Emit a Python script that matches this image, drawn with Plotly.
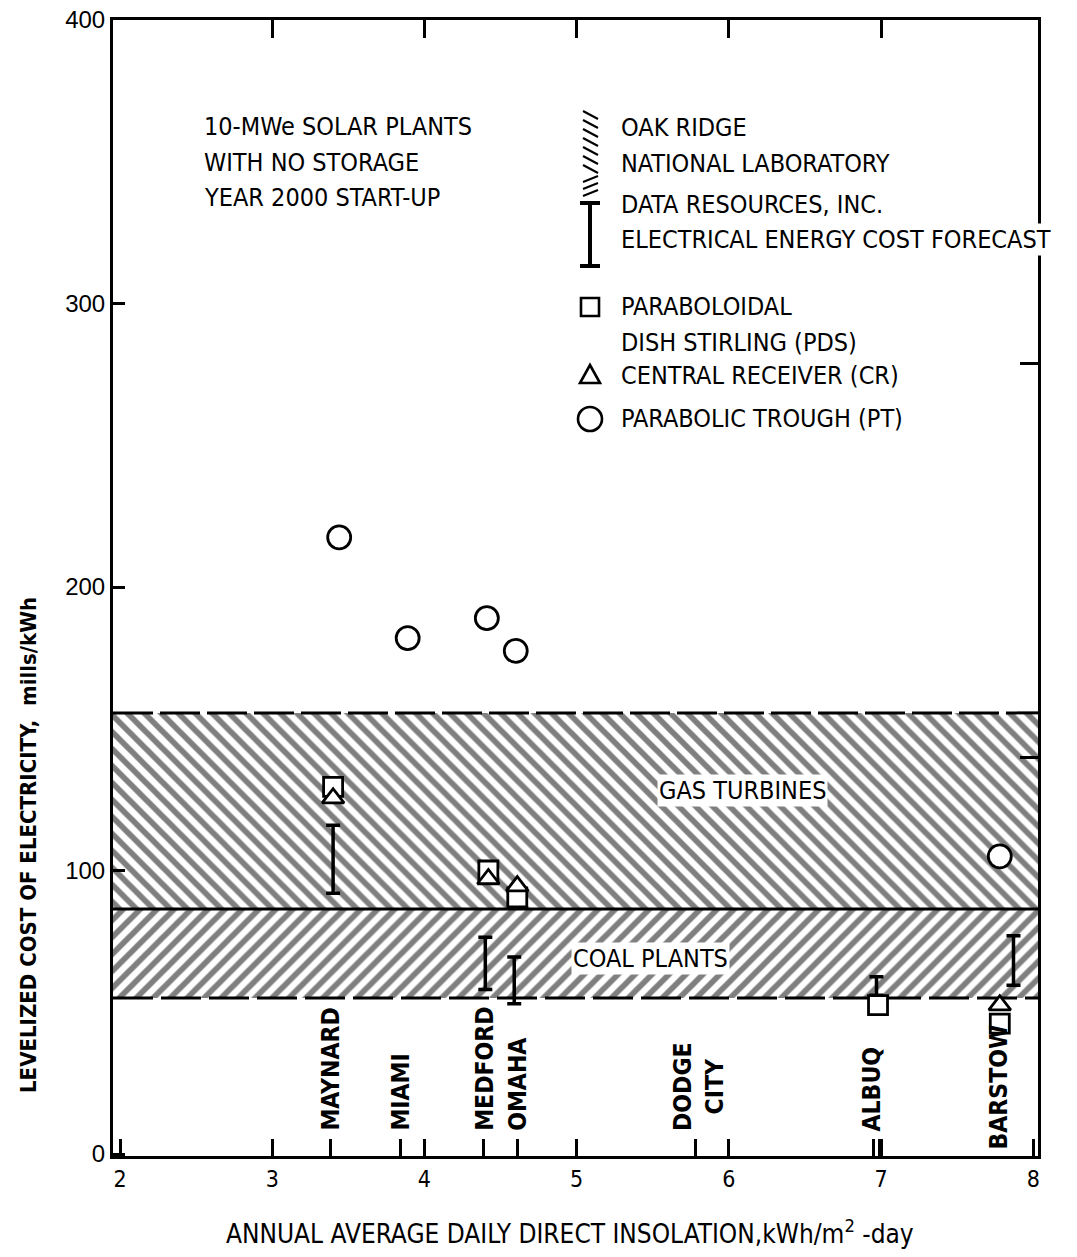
import plotly.graph_objects as go

# ---- data ----
# band limits (mills/kWh), Oak Ridge National Laboratory estimates
coal_low = 55.0
coal_high = 86.4
gas_high = 155.6

# paraboloidal dish stirling (PDS)
pds_x = [3.40, 4.42, 4.61, 6.98, 7.78]
pds_y = [129.5, 100.0, 90.5, 52.5, 46.0]

# central receiver (CR)
cr_x = [3.40, 4.42, 4.61, 7.78]
cr_y = [125.5, 97.0, 94.5, 52.5]

# parabolic trough (PT)
pt_x = [3.44, 3.89, 4.41, 4.60, 7.78]
pt_y = [217.5, 182.0, 189.0, 177.5, 105.0]

# Data Resources, Inc. forecast ranges
dri_x = [3.40, 4.40, 4.59, 6.97, 7.87]
dri_low = [92.0, 58.0, 53.0, 56.0, 59.5]
dri_high = [116.0, 76.5, 69.5, 62.5, 77.0]

# sites along the insolation axis
cities = ["MAYNARD", "MIAMI", "MEDFORD", "OMAHA", "DODGE<br>CITY", "ALBUQ", "BARSTOW"]
city_x = [3.38, 3.84, 4.39, 4.61, 5.80, 6.94, 7.77]
city_ticks = [3.38, 3.84, 4.39, 4.61, 5.78, 6.95, 6.99]

x_ticks = [2, 3, 4, 5, 6, 7, 8]
y_ticks = [0, 100, 200, 300, 400]
top_ticks = [3, 4, 5, 6, 7]
right_ticks = [140, 279]

X_RANGE = [1.954, 8.031]
Y_RANGE = [-0.7, 400]

# ---- page geometry (pixels, as measured on the page) ----
OFF = 8  # body margin of the html page
W, H = 1077 - OFF, 1257 - OFF
PL, PR, PT, PB = 113, 1038, 20, 1156

COND = "DejaVu Sans Condensed, Liberation Sans Narrow, sans-serif"
REG = "Liberation Sans, Arial, sans-serif"


def px(x):
    return (x - PL) / (PR - PL)


def py(y):
    return (PB - y) / (PB - PT)


fig = go.Figure()

pat = dict(size=12, solidity=0.48, fgcolor="black", bgcolor="white")

# coal plants band (lower dashed edge)
fig.add_trace(go.Scatter(
    x=X_RANGE, y=[coal_low, coal_low], mode="lines",
    line=dict(color="black", width=3, dash="40px,8px"),
    showlegend=False, hoverinfo="skip"))
fig.add_trace(go.Scatter(
    x=X_RANGE, y=[coal_high, coal_high], mode="lines",
    line=dict(color="black", width=3),
    fill="tonexty", fillcolor="black",
    fillpattern=dict(shape="/", **pat),
    showlegend=False, hoverinfo="skip"))
# gas turbines band
fig.add_trace(go.Scatter(
    x=X_RANGE, y=[gas_high, gas_high], mode="lines",
    line=dict(color="black", width=3, dash="40px,7px"),
    fill="tonexty", fillcolor="black",
    fillpattern=dict(shape="\\", **pat),
    showlegend=False, hoverinfo="skip"))

# DRI forecast ranges
fig.add_trace(go.Scatter(
    x=dri_x, y=dri_low, mode="markers",
    marker=dict(size=1, color="rgba(0,0,0,0)"),
    error_y=dict(type="data", symmetric=False,
                 array=[h - l for h, l in zip(dri_high, dri_low)],
                 arrayminus=[0] * len(dri_low),
                 width=7, thickness=3.5, color="black"),
    showlegend=False, hoverinfo="skip"))

mk_line = dict(color="black", width=2.8)
fig.add_trace(go.Scatter(
    x=pds_x, y=pds_y, mode="markers",
    marker=dict(symbol="square", size=19, color="white", line=mk_line),
    showlegend=False))
fig.add_trace(go.Scatter(
    x=cr_x, y=cr_y, mode="markers",
    marker=dict(symbol="triangle-up", size=19, color="white", line=mk_line),
    showlegend=False))
fig.add_trace(go.Scatter(
    x=pt_x, y=pt_y, mode="markers",
    marker=dict(symbol="circle", size=23, color="white", line=mk_line),
    showlegend=False))

# helper trace so the mirrored tick axes are drawn
fig.add_trace(go.Scatter(x=[], y=[], xaxis="x2", yaxis="y2",
                         showlegend=False, hoverinfo="skip"))

ann = []


def label(txt, x, y, size=25, xa="center", ya="middle", angle=0, bg=None, family=COND):
    ann.append(dict(x=px(x), y=py(y), xref="paper", yref="paper", text=txt,
                    showarrow=False, xanchor=xa, yanchor=ya, textangle=angle,
                    bgcolor=bg, borderpad=1,
                    font=dict(family=family, size=size, color="black")))


# site labels
for name, cx in zip(cities, city_x):
    base = 0.8 if name == "BARSTOW" else 7.4
    ann.append(dict(x=cx, y=base, xref="x", yref="y", text="<b>%s</b>" % name,
                    textangle=-90, showarrow=False, xanchor="center", yanchor="bottom",
                    font=dict(family=COND, size=24.5, color="black")))

# band names
label("GAS TURBINES", 742, 790, bg="white")
label("COAL PLANTS", 650, 958, bg="white")

# header text
for txt, yy in [("10-MWe SOLAR PLANTS", 126), ("WITH NO STORAGE", 162),
                ("YEAR 2000 START-UP", 198)]:
    label(txt, 202, yy, xa="left")

# legend text
for txt, yy in [("OAK RIDGE", 128), ("NATIONAL LABORATORY", 163),
                ("DATA RESOURCES, INC.", 204), ("ELECTRICAL ENERGY COST FORECAST", 240),
                ("PARABOLOIDAL", 307), ("DISH STIRLING (PDS)", 342),
                ("CENTRAL RECEIVER (CR)", 375), ("PARABOLIC TROUGH (PT)", 418)]:
    label(txt, 619, yy, xa="left", bg="white" if "FORECAST" in txt else None)

# axis titles
label("ANNUAL AVERAGE DAILY DIRECT INSOLATION,kWh/m<sup>2</sup> -day", 570, 1232, size=26)
label("<b>LEVELIZED COST OF ELECTRICITY,  mills/kWh</b>", 28, 845, size=22, angle=-90)

# legend symbols
shp = []
lw = dict(color="black", width=2.6)


def seg(x0, y0, x1, y1, w=2):
    shp.append(dict(type="line", xref="paper", yref="paper", x0=px(x0), x1=px(x1),
                    y0=py(y0), y1=py(y1), line=dict(color="black", width=w)))


# hatch sample
for k in range(7):
    y0 = 111 + k * 9
    seg(583, y0, 598, y0 + 8)
for k in range(3):
    y0 = 176 + k * 7
    seg(583, y0 + 6, 598, y0)
# error bar sample
seg(590, 203, 590, 266, 4)
seg(580, 203, 600, 203, 4)
seg(580, 266, 600, 266, 4)
# square
shp.append(dict(type="rect", xref="paper", yref="paper", x0=px(581), x1=px(599),
                y0=py(316), y1=py(298), line=lw))
# triangle
shp.append(dict(type="path", xref="paper", yref="paper",
                path="M %f %f L %f %f L %f %f Z" % (px(580), py(383), px(600), py(383),
                                                     px(590), py(365)),
                line=lw))
# circle
shp.append(dict(type="circle", xref="paper", yref="paper", x0=px(578), x1=px(602),
                y0=py(431), y1=py(407), line=lw))

fig.update_layout(
    width=W, height=H,
    margin=dict(l=PL - OFF, r=W - (PR - OFF), t=PT - OFF, b=H - (PB - OFF)),
    paper_bgcolor="white", plot_bgcolor="white",
    xaxis=dict(range=X_RANGE, tickvals=x_ticks + city_ticks,
               ticktext=[str(v) for v in x_ticks] + [""] * len(city_ticks),
               ticks="inside", ticklen=17, tickwidth=2.5, tickcolor="black",
               showline=True, linecolor="black", linewidth=3, mirror=True,
               showgrid=False, zeroline=False, automargin=False,
               tickfont=dict(family=COND, size=23, color="black")),
    yaxis=dict(range=Y_RANGE, tickvals=y_ticks, ticklabeloverflow="allow",
               ticks="inside", ticklen=12, tickwidth=2.5, tickcolor="black",
               showline=True, linecolor="black", linewidth=3, mirror=True,
               showgrid=False, zeroline=False, automargin=False,
               tickfont=dict(family=REG, size=24, color="black")),
    xaxis2=dict(range=X_RANGE, overlaying="x", side="top", anchor="y2",
                tickvals=top_ticks, ticks="inside", ticklen=18, tickwidth=2.5,
                tickcolor="black", showticklabels=False, showgrid=False,
                zeroline=False, showline=False, automargin=False),
    yaxis2=dict(range=Y_RANGE, overlaying="y", side="right", anchor="x2",
                tickvals=right_ticks, ticks="inside", ticklen=18, tickwidth=2.5,
                tickcolor="black", showticklabels=False, showgrid=False,
                zeroline=False, showline=False, automargin=False),
    annotations=ann,
    shapes=shp,
    showlegend=False,
)

fig.write_html("out.html")
